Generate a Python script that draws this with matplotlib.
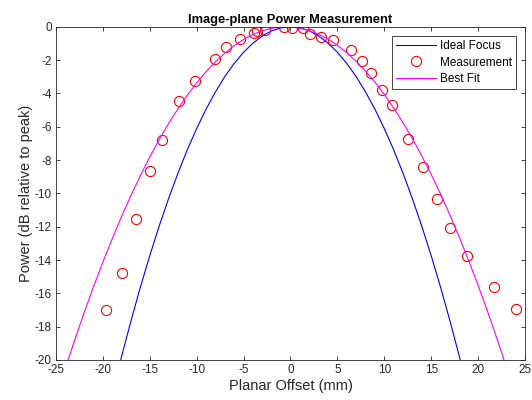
import numpy as np
import matplotlib
matplotlib.use('Agg')
import matplotlib.pyplot as plt

plt.rcParams['font.family'] = ['Liberation Sans', 'DejaVu Sans']
plt.rcParams['axes.unicode_minus'] = False

x_med = [-19.70, -17.92, -16.43, -14.94, -13.66, -11.89, -10.22, -7.99, -6.92, -5.39,
         -3.90, -3.58, -2.69, -0.70, 0.21, 1.38, 2.10, 3.27, 4.58, 6.43,
         7.60, 8.59, 9.73, 10.86, 12.57, 14.16, 15.62, 17.04, 18.85, 21.66, 24.04]
y_med = [-17.01, -14.76, -11.54, -8.68, -6.80, -4.48, -3.26, -1.94, -1.20, -0.76,
         -0.40, -0.24, -0.18, -0.02, -0.10, -0.10, -0.46, -0.62, -0.82, -1.42,
         -2.04, -2.80, -3.78, -4.68, -6.74, -8.43, -10.36, -12.08, -13.78, -15.64, -16.94]

# foco ideal (curva azul), muestreada cada 1 mm
x_ideal = list(range(-19, 20))
y_ideal = [-22.06, -19.80, -17.66, -15.64, -13.75, -11.98, -10.33, -8.80, -7.39, -6.11,
           -4.95, -3.91, -2.99, -2.20, -1.53, -0.98, -0.55, -0.24, -0.06, 0.0,
           -0.06, -0.24, -0.55, -0.98, -1.53, -2.20, -2.99, -3.91, -4.95, -6.11,
           -7.39, -8.80, -10.33, -11.98, -13.75, -15.64, -17.66, -19.80, -22.06]

# mejor ajuste (curva magenta), muestreada cada 1 mm
x_ajuste = list(range(-24, 24))
y_ajuste = [-20.52, -18.81, -17.18, -15.62, -14.14, -12.73, -11.39, -10.13, -8.94, -7.82,
            -6.78, -5.82, -4.93, -4.11, -3.37, -2.70, -2.10, -1.58, -1.13, -0.76,
            -0.46, -0.24, -0.09, -0.01, -0.01, -0.08, -0.23, -0.45, -0.74, -1.11,
            -1.55, -2.07, -2.66, -3.32, -4.06, -4.88, -5.76, -6.72, -7.76, -8.87,
            -10.05, -11.31, -12.64, -14.05, -15.53, -17.08, -18.71, -20.41]

gris = '#262626'

fig = plt.figure(figsize=(5.32, 4.00), dpi=100)
ax = fig.add_axes([0.105, 0.1, 0.882, 0.833])

ax.plot(x_ideal, y_ideal, color='#0000ff', lw=0.8, label='Ideal Focus')
ax.plot(x_med, y_med, 'o', mfc='none', mec='#ff0000', ms=7.3, mew=0.8, label='Measurement')
ax.plot(x_ajuste, y_ajuste, color='#ff00ff', lw=0.8, label='Best Fit')

ax.set_xlim(-25, 25)
ax.set_ylim(-20, 0)
ax.set_xticks(np.arange(-25, 26, 5))
ax.set_yticks(np.arange(-20, 1, 2))

ax.tick_params(direction='in', top=True, right=True, length=3, width=0.6,
               labelsize=8.5, colors=gris, pad=3)
for s in ax.spines.values():
    s.set_color(gris)
    s.set_linewidth(0.6)

ax.set_xlabel('Planar Offset (mm)', fontsize=10.5, color=gris, labelpad=2)
ax.set_ylabel('Power (dB relative to peak)', fontsize=10.5, color=gris, labelpad=1)
ax.set_title('Image-plane Power Measurement', fontsize=9.3, fontweight='bold', pad=3)

leg = ax.legend(loc='upper right', fontsize=8.5, fancybox=False, framealpha=1,
                edgecolor=gris, borderaxespad=0.8, handlelength=3.4,
                handletextpad=0.3, labelspacing=0.35, borderpad=0.35)
leg.get_frame().set_linewidth(0.6)

plt.savefig('out.png', dpi=100)
